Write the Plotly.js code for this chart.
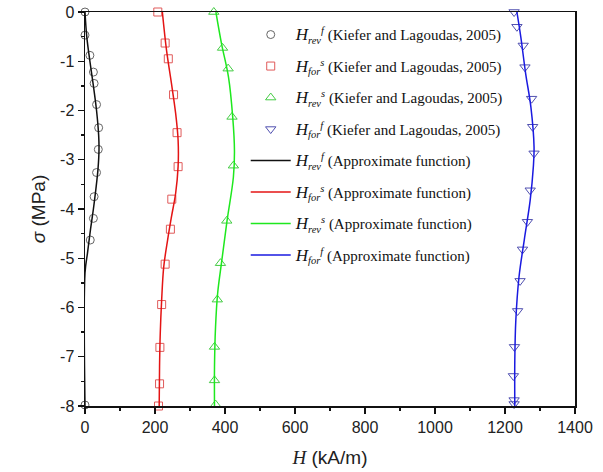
<!DOCTYPE html>
<html>
<head>
<meta charset="utf-8">
<script src="https://cdn.plot.ly/plotly-3.0.1.min.js"></script>
<style>html,body{margin:0;padding:0;background:#fff;}#chart{width:603px;height:472px;}</style>
</head>
<body>
<div id="chart"></div>
<script>
// Experimental data (Kiefer and Lagoudas, 2005)
const hRevF_data = [0, 0, 14, 24, 26, 33, 39, 38, 33, 26, 24, 15, 0];
const sRevF_data = [0, -0.47, -0.88, -1.22, -1.45, -1.88, -2.35, -2.79, -3.26, -3.75, -4.19, -4.63, -7.98];

const hForS_data = [208, 229, 238, 253, 263, 266, 248, 244, 229, 219, 214, 213, 210];
const sForS_data = [0, -0.63, -0.95, -1.68, -2.45, -3.14, -3.80, -4.41, -5.12, -5.94, -6.81, -7.55, -8.0];

const hRevS_data = [368, 393, 409, 420, 424, 405, 387, 378, 370, 370, 373];
const sRevS_data = [0, -0.73, -1.15, -2.13, -3.12, -4.24, -5.10, -5.84, -6.80, -7.48, -7.97];

const hForF_data = [1226, 1234, 1252, 1257, 1276, 1279, 1283, 1272, 1264, 1250, 1243, 1236, 1227, 1224, 1226, 1226];
const sForF_data = [0, -0.30, -0.68, -1.12, -1.76, -2.33, -2.87, -3.62, -4.26, -4.82, -5.46, -6.07, -6.80, -7.39, -7.88, -7.96];

// Approximate functions
const hRevF_fit = [0, 5, 14, 24, 33, 39, 40, 37, 31, 24, 16, 7, 0, 0];
const sRevF_fit = [0, -0.5, -1, -1.5, -2, -2.5, -2.8, -3.2, -3.6, -4, -4.4, -4.9, -5.3, -8];

const hForS_fit = [221, 233, 247, 259, 266, 266, 259, 247, 236, 225, 219, 215, 213, 212];
const sForS_fit = [0, -0.78, -1.45, -2.06, -2.6, -3.14, -3.68, -4.16, -4.63, -5.17, -5.85, -6.53, -7.2, -8];

const hRevS_fit = [374, 390, 410, 422, 427, 424, 406, 391, 379, 373, 370, 370];
const sRevS_fit = [0, -0.64, -1.32, -2.13, -2.81, -3.35, -4.23, -5.04, -5.71, -6.39, -7.2, -8];

const hForF_fit = [1234, 1245, 1259, 1274, 1283, 1281, 1272, 1255, 1240, 1231, 1228, 1228];
const sForF_fit = [0, -0.5, -1.25, -1.93, -2.74, -3.14, -3.82, -4.63, -5.38, -6.25, -7.07, -8];

// Tick labels
const xTickVals = [0, 200, 400, 600, 800, 1000, 1200, 1400];
const xTickText = ['0', '200', '400', '600', '800', '1000', '1200', '1400'];
const yTickVals = [0, -1, -2, -3, -4, -5, -6, -7, -8];
const yTickText = ['0', '-1', '-2', '-3', '-4', '-5', '-6', '-7', '-8'];

const bigH = '<i><span style="font-size:17px">H</span></i>';
const nameRevF = bigH + '<sub><i>rev</i></sub><sup><i>f</i></sup>';
const nameForS = bigH + '<sub><i>for</i></sub><sup><i>s</i></sup>';
const nameRevS = bigH + '<sub><i>rev</i></sub><sup><i>s</i></sup>';
const nameForF = bigH + '<sub><i>for</i></sub><sup><i>f</i></sup>';
const refTxt = ' (Kiefer and Lagoudas, 2005)';
const fitTxt = ' (Approximate function)';

let g = 0;
function pts(x, y, name, symbol, color, size) {
  g += 1;
  return {x: x, y: y, name: name, legendgroup: 'g' + g, type: 'scatter', mode: 'markers', cliponaxis: false,
    marker: {symbol: symbol, size: size, color: color, line: {color: color, width: 1}}};
}
function fit(x, y, name, color) {
  g += 1;
  return {x: x, y: y, name: name, legendgroup: 'g' + g, type: 'scatter', mode: 'lines',
    line: {color: color, width: 1.5, shape: 'spline', smoothing: 1}};
}

const data = [
  pts(hRevF_data, sRevF_data, nameRevF + refTxt, 'circle-open', '#666666', 8),
  pts(hForS_data, sForS_data, nameForS + refTxt, 'square-open', '#e05a5a', 8),
  pts(hRevS_data, sRevS_data, nameRevS + refTxt, 'triangle-up-open', '#44cc44', 9),
  pts(hForF_data, sForF_data, nameForF + refTxt, 'triangle-down-open', '#5050b0', 9),
  fit(hRevF_fit, sRevF_fit, nameRevF + fitTxt, '#111111'),
  fit(hForS_fit, sForS_fit, nameForS + fitTxt, '#e41414'),
  fit(hRevS_fit, sRevS_fit, nameRevS + fitTxt, '#1ee81e'),
  fit(hForF_fit, sForF_fit, nameForF + fitTxt, '#1a1ae0')
];

const axisCommon = {
  showline: true, mirror: true, linecolor: '#111', linewidth: 1.5,
  showgrid: false, zeroline: false, ticks: 'outside', ticklen: 6, tickwidth: 1.3, tickcolor: '#111',
  tickmode: 'array',
  tickfont: {family: 'Arial, Liberation Sans', size: 16, color: '#222'}
};

const layout = {
  width: 603, height: 472,
  margin: {l: 85, r: 28, t: 12, b: 66},
  paper_bgcolor: '#fff', plot_bgcolor: '#fff',
  showlegend: true,
  legend: {x: 0.328, y: 0.984, xanchor: 'left', yanchor: 'top', bgcolor: 'rgba(0,0,0,0)',
    traceorder: 'grouped', tracegroupgap: 9,
    font: {family: 'Liberation Serif, Times New Roman', size: 15, color: '#111'}, itemwidth: 40},
  xaxis: Object.assign({}, axisCommon, {
    range: [0, 1400], tickvals: xTickVals, ticktext: xTickText,
    minor: {tickmode: 'linear', tick0: 0, dtick: 100, ticks: 'outside', ticklen: 3, tickcolor: '#111'},
    title: {text: '<i><span style="font-family:Liberation Serif">H</span></i> (kA/m)', standoff: 16,
      font: {family: 'Arial, Liberation Sans', size: 19, color: '#222'}}
  }),
  yaxis: Object.assign({}, axisCommon, {
    range: [-8, 0], tickvals: yTickVals, ticktext: yTickText,
    minor: {tickmode: 'linear', tick0: 0, dtick: 0.5, ticks: 'outside', ticklen: 3, tickcolor: '#111'},
    title: {text: '<i>σ</i> (MPa)', standoff: 9,
      font: {family: 'Arial, Liberation Sans', size: 19, color: '#222'}}
  })
};

Plotly.newPlot('chart', data, layout, {displayModeBar: false, staticPlot: true});
</script>
</body>
</html>
